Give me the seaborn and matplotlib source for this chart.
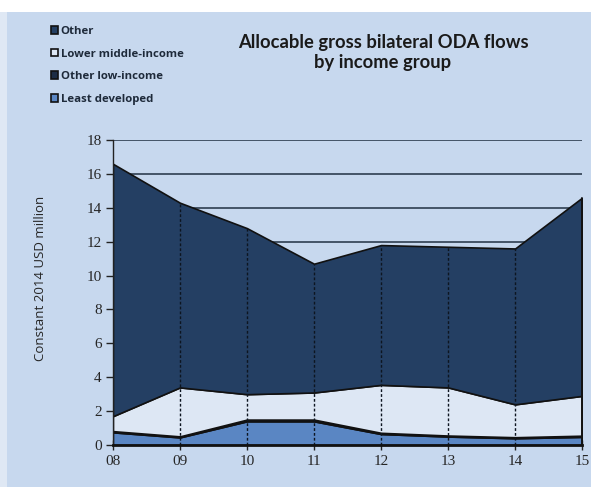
import numpy as np
import matplotlib
matplotlib.use('Agg')
import matplotlib.pyplot as plt
import seaborn as sns

# Data (USD million, constant 2014)
years = ['08', '09', '10', '11', '12', '13', '14', '15']
least_developed = [0.75, 0.45, 1.40, 1.40, 0.65, 0.50, 0.40, 0.48]
other_low_income = [0.07, 0.06, 0.10, 0.10, 0.07, 0.06, 0.06, 0.07]
lower_middle = [0.88, 2.89, 1.50, 1.60, 2.83, 2.84, 1.94, 2.35]
other = [14.90, 10.90, 9.80, 7.60, 8.25, 8.30, 9.20, 11.70]

labels = ['Least developed', 'Other low-income', 'Lower middle-income', 'Other']
colors = ['#5a86c3', '#1c2c44', '#dde7f4', '#243f63']
bg = '#c7d8ee'

sns.set_style('white')
plt.rcParams['font.family'] = ['DejaVu Sans']

fig = plt.figure(figsize=(5.91, 4.87), dpi=100)
fig.patch.set_facecolor(bg)
# white strip on top and a thin border on the left, like the source image
fig.patches.append(plt.Rectangle((0, 0.975), 1, 0.025, transform=fig.transFigure,
                                 facecolor='white', edgecolor='none', zorder=0))
fig.patches.append(plt.Rectangle((0, 0), 0.012, 0.975, transform=fig.transFigure,
                                 facecolor='#dfe8f4', edgecolor='none', zorder=0))

ax = fig.add_axes([0.191, 0.0862, 0.794, 0.6263])
ax.set_facecolor(bg)

x = np.arange(len(years))
series = [least_developed, other_low_income, lower_middle, other]
polys = ax.stackplot(x, *series, colors=colors, labels=labels,
                     edgecolor='#111111', linewidth=1.2, zorder=2)

# horizontal gridlines behind the areas
for yv in range(2, 19, 2):
    ax.axhline(yv, color='#3a4a5c', linewidth=1.3, zorder=1)

# dashed vertical drop lines at each year, drawn over the areas
tops = np.sum(series, axis=0)
for xi, t in zip(x[1:-1], tops[1:-1]):
    ax.plot([xi, xi], [0, t], color='#0d1520', linewidth=1.0,
            linestyle=(0, (2, 1.5)), zorder=3)
ax.plot([x[-1], x[-1]], [0, tops[-1]], color='#111111', linewidth=1.4, zorder=3)

ax.set_xlim(0, len(years) - 1)
ax.set_ylim(0, 18)
ax.set_xticks(x)
ax.set_xticklabels(years)
ax.set_yticks(range(0, 19, 2))

for s in ['top', 'right']:
    ax.spines[s].set_visible(False)
ax.spines['left'].set_color('#222222')
ax.spines['left'].set_linewidth(1.0)
ax.spines['bottom'].set_color('#111111')
ax.spines['bottom'].set_linewidth(2.0)
ax.spines['bottom'].set_zorder(4)

ax.tick_params(axis='y', direction='out', length=5, width=1, color='#222222', pad=3)
ax.tick_params(axis='x', direction='inout', length=7, width=1, color='#222222', pad=4)
ax.tick_params(left=True, bottom=True)
for lab in ax.get_xticklabels() + ax.get_yticklabels():
    lab.set_fontfamily('Liberation Serif')
    lab.set_fontsize(11)
    lab.set_color('#262626')

ax.set_ylabel('Constant 2014 USD million', fontsize=9.5, color='#262626',
              fontfamily='Open Sans')
ax.yaxis.set_label_coords(-0.141, 0.548)

fig.text(0.648, 0.93, 'Allocable gross bilateral ODA flows\nby income group',
         ha='center', va='top', fontsize=13.2, fontweight='bold',
         color='#1a1a1a', fontfamily='Lato', linespacing=1.2)

handles, labs = ax.get_legend_handles_labels()
leg = fig.legend(handles[::-1], labs[::-1], loc='upper left',
                 bbox_to_anchor=(0.086, 0.947), frameon=False,
                 borderaxespad=0, borderpad=0,
                 prop={'family': 'Open Sans', 'weight': 'bold', 'size': 8.2},
                 handlelength=0.65, handleheight=0.65, handletextpad=0.2,
                 labelspacing=1.03)
for t in leg.get_texts():
    t.set_color('#1e2a3a')

fig.savefig('out.png', dpi=100, facecolor=fig.get_facecolor())
